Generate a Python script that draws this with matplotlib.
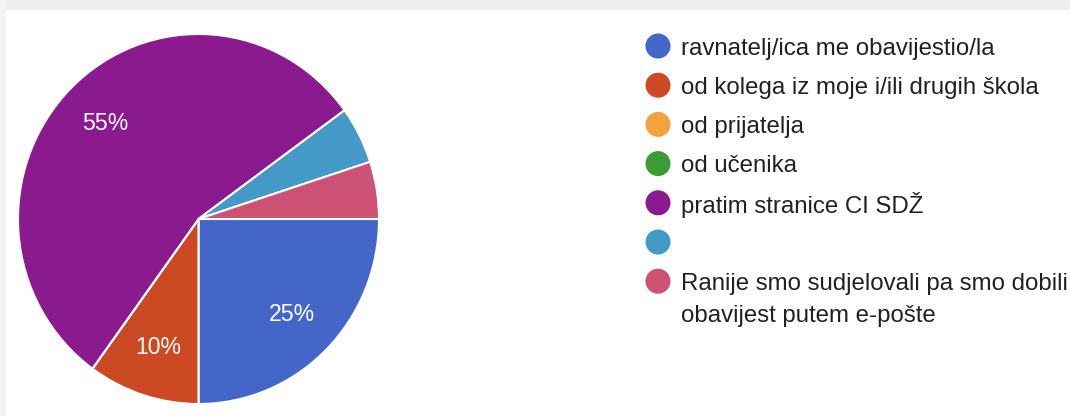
import matplotlib
matplotlib.use("Agg")
import matplotlib.pyplot as plt
from matplotlib.patches import Rectangle

plt.rcParams['font.family'] = ['Liberation Sans', 'DejaVu Sans']

categories = [
    "ravnatelj/ica me obavijestio/la",
    "od kolega iz moje i/ili drugih škola",
    "od prijatelja",
    "od učenika",
    "pratim stranice CI SDŽ",
    "",
    "Ranije smo sudjelovali pa smo dobili\nobavijest putem e-pošte",
]
values = [25, 10, 0, 0, 55, 5, 5]
colors = ["#4466c8", "#cc4a23", "#f4a33c", "#3d9b35", "#8b1a8f", "#4599c6", "#cd5276"]

W, H = 1070, 416
fig = plt.figure(figsize=(W / 100, H / 100), dpi=100)
fig.patch.set_facecolor("white")

# screenshot frame (gray strips)
fig.add_artist(Rectangle((0, 1 - 10 / H), 1, 10 / H, transform=fig.transFigure,
                         facecolor="#efefef", edgecolor="none", zorder=0))
fig.add_artist(Rectangle((0, 0), 6 / W, 1, transform=fig.transFigure,
                         facecolor="#f3f3f3", edgecolor="none", zorder=0))

# pie axes: center (198.5, 219) px from top, radii 180.5 x 185
cx, cy, rx, ry = 198.5, 219, 180.5, 185
ax = fig.add_axes([(cx - rx) / W, (H - cy - ry) / H, 2 * rx / W, 2 * ry / H])


def fmt(p):
    return f"{p:.0f}%" if p >= 8 else ""


wedges, texts, autotexts = ax.pie(
    values, colors=colors, startangle=0, counterclock=False,
    autopct=fmt, pctdistance=0.73,
    wedgeprops=dict(edgecolor="white", linewidth=1.5),
    textprops=dict(color="white", fontsize=16.6),
)
ax.set_aspect("auto")
ax.set_xlim(-1, 1)
ax.set_ylim(-1, 1)
ax.axis("off")

# legend drawn in pixel coordinates
lax = fig.add_axes([0, 0, 1, 1], facecolor="none")
lax.set_xlim(0, W)
lax.set_ylim(H, 0)
lax.axis("off")
y0, step, line_gap = 46, 39.2, 32
for i, (lab, col) in enumerate(zip(categories, colors)):
    y = y0 + i * step
    lax.scatter([658], [y], s=25 ** 2 * 0.52, color=col, edgecolors="none")
    for k, line in enumerate(lab.split("\n")):
        lax.text(681, y + k * line_gap, line, fontsize=17.3, color="#212121",
                 va="center_baseline", ha="left")

fig.savefig("out.png", dpi=100)
